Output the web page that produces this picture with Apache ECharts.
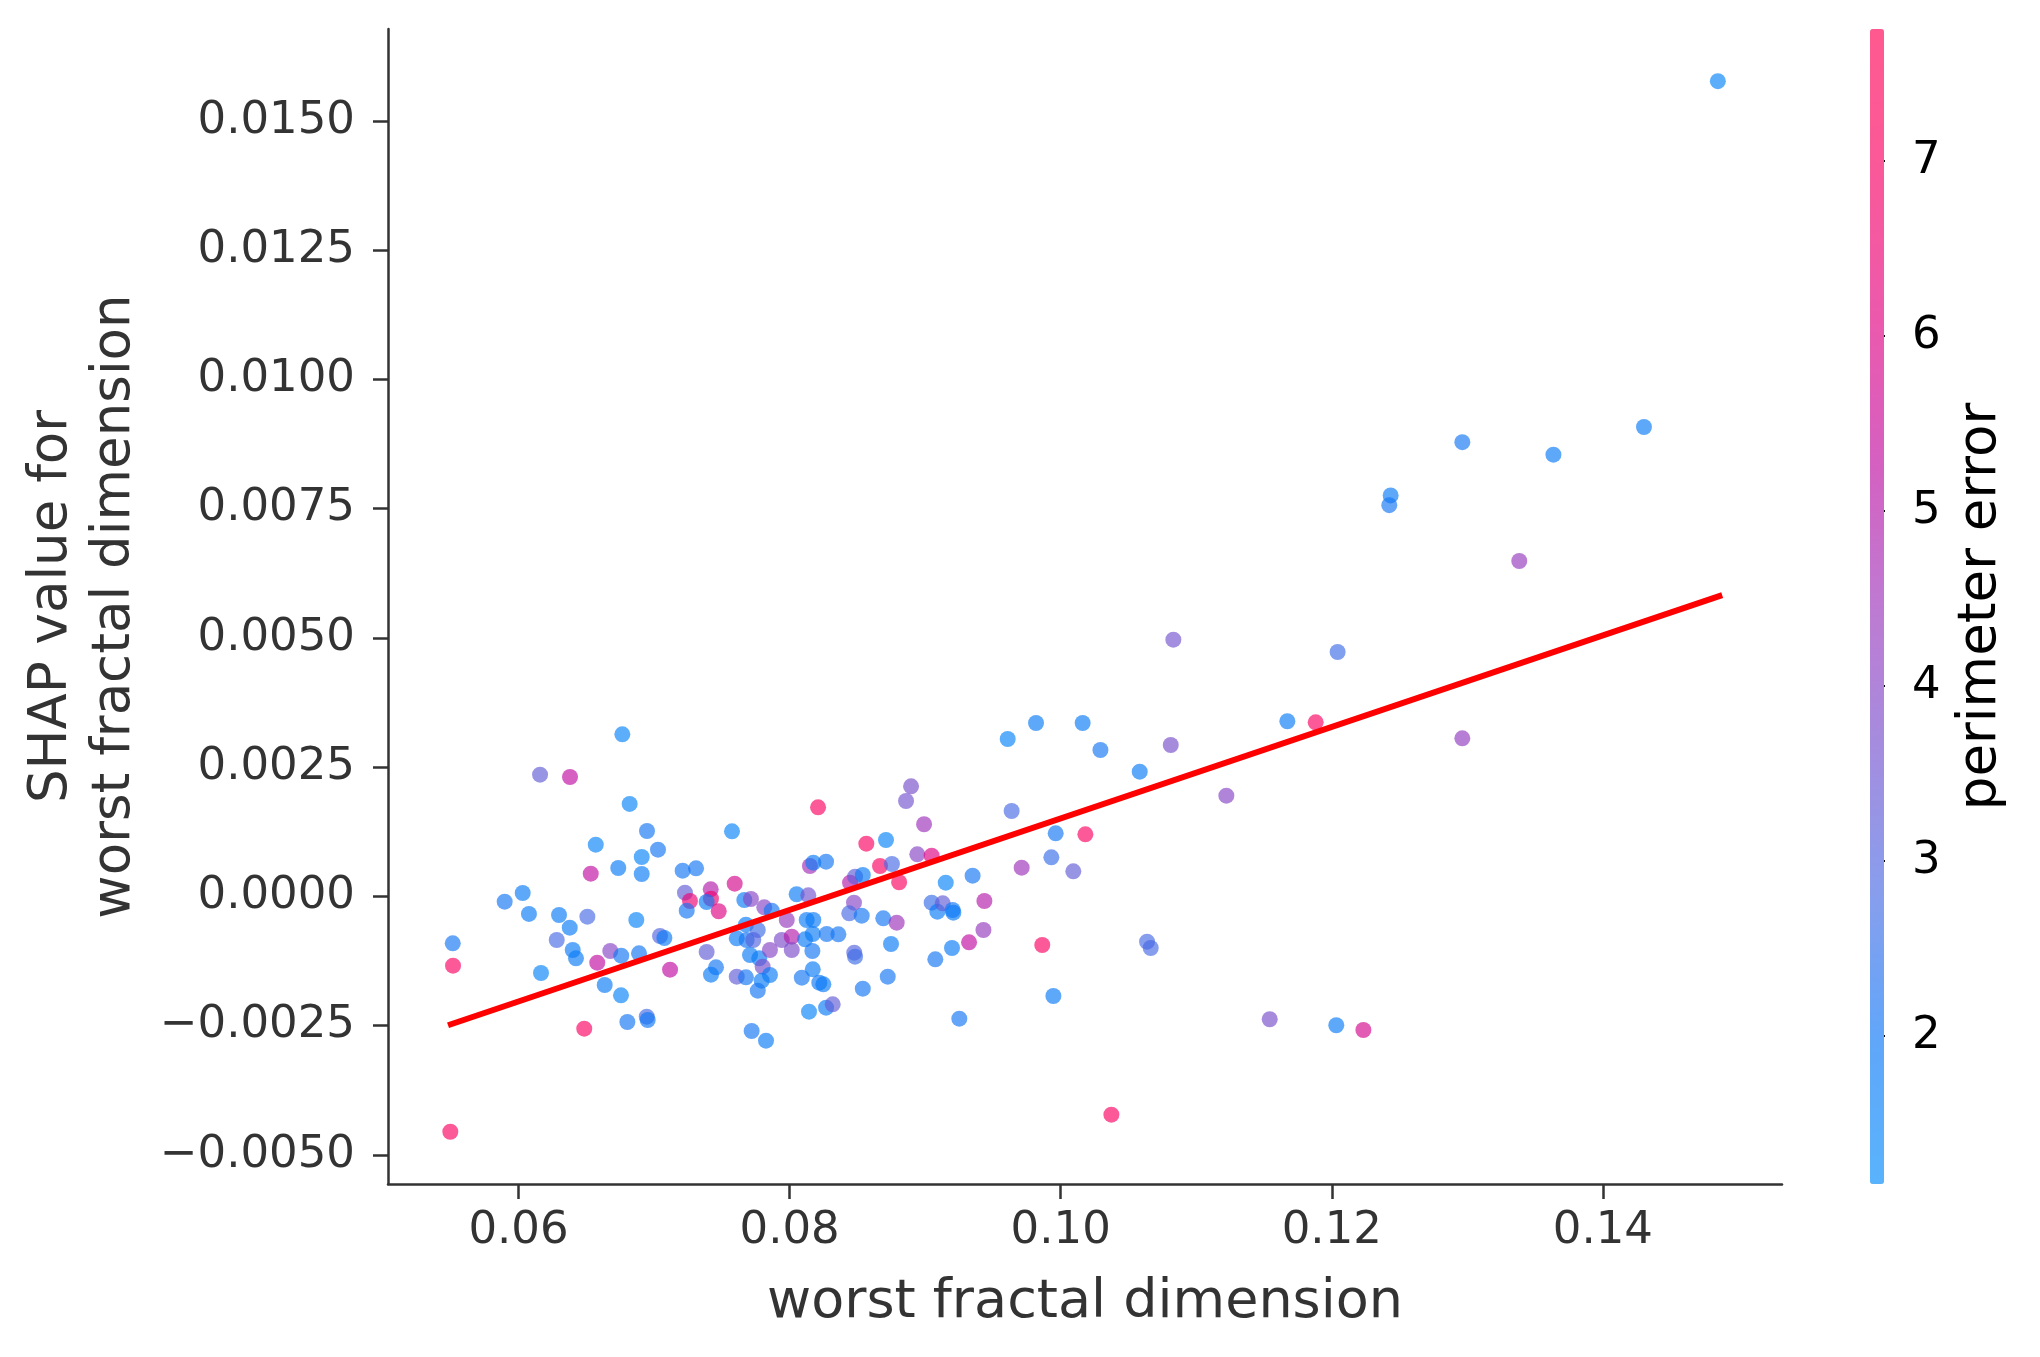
<!DOCTYPE html>
<html><head><meta charset="utf-8">
<script src="https://cdn.jsdelivr.net/npm/echarts@6/dist/echarts.min.js"></script>
<style>html,body{margin:0;padding:0;background:#fff}#c{width:2040px;height:1357px}</style>
</head><body><div id="c"></div>
<script>
// feature value (x), SHAP value (y), interaction feature (colour)
const worstFractalDimension = [
0.06766,0.06159,0.06380,0.06820,0.06948,0.07029,0.06570,0.06909,0.06736,0.06909,
0.06533,0.07575,0.08210,0.08566,0.07211,0.07310,0.08150,0.08175,0.08269,0.08667,
0.05898,0.06031,0.06077,0.06299,0.06378,0.06508,0.06282,0.06400,0.06424,0.05515,
0.05517,0.06166,0.06869,0.06677,0.06758,0.06889,0.06581,0.07118,0.06636,0.06756,
0.06485,0.06803,0.06946,0.06953,0.05497,0.07044,0.07076,0.07228,0.07265,0.07241,
0.07418,0.07420,0.07388,0.07477,0.07595,0.07666,0.07715,0.07813,0.07868,0.07678,
0.07765,0.07610,0.07683,0.07732,0.07388,0.07457,0.07420,0.07610,0.07678,0.07708,
0.07776,0.07855,0.07801,0.07794,0.07855,0.07765,0.07720,0.07826,0.07942,0.08016,
0.08016,0.07979,0.08052,0.08138,0.08126,0.08175,0.08114,0.08171,0.08168,0.08274,
0.08360,0.08171,0.08090,0.08219,0.08249,0.08143,0.08269,0.08318,0.08446,0.08483,
0.08540,0.08475,0.08440,0.08532,0.08477,0.08483,0.08540,0.08711,0.09609,0.10293,
0.10812,0.10583,0.11222,0.09638,0.08896,0.08859,0.08992,0.09963,0.10182,0.08755,
0.08942,0.09048,0.09931,0.10093,0.09712,0.08808,0.09152,0.09350,0.08691,0.08790,
0.09048,0.09090,0.09130,0.09203,0.09208,0.09437,0.09430,0.09324,0.09198,0.09075,
0.08748,0.08724,0.09864,0.09946,0.09252,0.10374,0.10637,0.10664,0.11542,0.12033,
0.12233,0.12963,0.10831,0.12043,0.09818,0.10162,0.11672,0.11881,0.14848,0.12963,
0.13635,0.14303,0.12434,0.12424,0.13383
];
const shapValues = [
0.003137,0.002356,0.002311,0.001790,0.001267,0.000906,0.001003,0.000764,0.000551,0.000435,
0.000441,0.001261,0.001725,0.001021,0.000499,0.000545,0.000590,0.000654,0.000673,0.000590,
-0.000100,0.000068,-0.000338,-0.000358,-0.000603,-0.000390,-0.000841,-0.001035,-0.001196,-0.000906,
-0.001338,-0.001480,-0.000455,-0.001054,-0.001145,-0.001100,-0.001280,-0.001416,-0.001712,-0.001912,
-0.002557,-0.002427,-0.002325,-0.002389,-0.004550,-0.000764,-0.000803,0.000074,-0.000087,-0.000274,
0.000139,-0.000042,-0.000106,-0.000286,0.000248,-0.000068,-0.000048,-0.000209,-0.000274,-0.000545,
-0.000648,-0.000809,-0.000841,-0.000841,-0.001074,-0.001370,-0.001512,-0.001551,-0.001564,-0.001132,
-0.001196,-0.001035,-0.001357,-0.001628,-0.001518,-0.001821,-0.002602,-0.002789,-0.000841,-0.000777,
-0.001035,-0.000455,0.000043,0.000023,-0.000455,-0.000455,-0.000828,-0.000725,-0.001054,-0.000725,
-0.000731,-0.001408,-0.001571,-0.001667,-0.001699,-0.002228,-0.002151,-0.002086,0.000267,0.000383,
0.000416,-0.000120,-0.000325,-0.000371,-0.001087,-0.001164,-0.001783,0.001093,0.003046,0.002834,
0.002930,0.002414,0.001950,0.001654,0.002131,0.001847,0.001397,0.001222,0.001203,0.000629,
0.000816,0.000789,0.000758,0.000487,0.000557,0.000275,0.000267,0.000402,-0.000422,-0.000507,
-0.000120,-0.000294,-0.000132,-0.000261,-0.000313,-0.000087,-0.000648,-0.000886,-0.000996,-0.001215,
-0.000919,-0.001551,-0.000938,-0.001925,-0.002363,-0.004220,-0.000874,-0.000996,-0.002375,-0.002491,
-0.002582,0.003060,0.004967,0.004729,0.003356,0.003356,0.003389,0.003369,0.015770,0.008787,
0.008545,0.009081,0.007758,0.007569,0.006489
];
const perimeterError = [
1.5,3.3,5.3,1.5,2.1,2.1,1.5,1.5,1.8,1.8,
5.3,1.5,7.0,7.0,2.1,2.1,4.6,1.8,2.1,7.0,
2.1,1.8,1.8,1.8,1.8,2.8,2.8,1.8,1.8,2.1,
7.0,1.5,1.5,4.0,2.1,2.1,5.3,5.3,1.8,1.5,
7.0,2.1,2.8,2.0,7.0,3.0,1.8,3.3,6.5,2.1,
5.0,6.5,1.8,6.0,5.8,1.8,4.0,4.0,2.1,1.8,
2.7,1.8,2.1,3.0,3.3,2.1,1.8,3.3,2.1,1.8,
1.8,4.0,3.7,1.8,1.8,2.1,2.1,1.8,3.8,5.0,
3.8,4.3,1.8,3.6,1.8,1.8,1.8,1.8,2.1,2.1,
2.1,1.8,2.1,2.0,1.8,1.5,1.8,3.3,5.0,3.3,
1.8,4.0,2.8,2.1,3.0,2.7,2.1,1.5,1.5,2.1,
3.7,1.8,4.0,2.8,3.7,3.6,4.5,2.1,7.0,2.8,
4.0,6.0,2.6,3.3,4.5,7.0,1.5,2.1,2.1,4.5,
2.6,1.8,3.3,2.0,1.8,5.0,4.3,5.3,1.8,2.1,
1.8,2.1,7.0,1.8,2.1,7.0,2.8,2.8,3.7,1.8,
5.8,4.2,3.6,2.7,1.8,1.8,1.8,7.0,1.5,2.1,
1.8,1.8,1.8,2.1,4.3
];
// fitted trend line end points
const fitLineX = [0.0548, 0.1488];
const fitLineY = [-0.00249, 0.00583];
// tick labels
const xTicks = [0.06, 0.08, 0.10, 0.12, 0.14];
const yTicks = [-0.005, -0.0025, 0, 0.0025, 0.005, 0.0075, 0.01, 0.0125, 0.015];
const colorTicks = [2, 3, 4, 5, 6, 7];
const colorMin = 1.154, colorMax = 7.754;

const stops = [[0,138,250],[10,118,245],[70,105,228],[115,80,205],[155,50,185],[190,10,160],[225,0,128],[248,0,98],[255,0,82]];
const ALPHA = 0.65;
const rgb = c => 'rgb(' + c.map(v => Math.round(v)).join(',') + ')';
const pointColors = stops.map(rgb);
const barColors = stops.map(c => rgb(c.map(v => v * ALPHA + 255 * (1 - ALPHA))));

const points = worstFractalDimension.map((x, i) => [x, shapValues[i], perimeterError[i]]);
const fitLine = fitLineX.map((x, i) => [x, fitLineY[i]]);

const FONT = 'DejaVu Sans';
const chart = echarts.init(document.getElementById('c'), null, {renderer: 'canvas'});
chart.setOption({
  animation: false,
  backgroundColor: '#ffffff',
  textStyle: {fontFamily: FONT},
  grid: [
    {left: 388, top: 29, width: 1394, height: 1155},
    {left: 1870, top: 29, width: 14, height: 1155}
  ],
  xAxis: [
    {
      gridIndex: 0, type: 'value', min: 0.050372, max: 0.153213,
      name: 'worst fractal dimension', nameLocation: 'middle', nameGap: 92,
      nameTextStyle: {fontSize: 54, color: '#333333', fontFamily: FONT},
      axisLine: {show: true, onZero: false, lineStyle: {color: '#333333', width: 2.5}},
      axisTick: {show: true, customValues: xTicks, length: 15, lineStyle: {color: '#333333', width: 2.5}},
      axisLabel: {customValues: xTicks, formatter: v => v.toFixed(2), fontSize: 45, color: '#333333', margin: 25, fontFamily: FONT},
      splitLine: {show: false}
    },
    {gridIndex: 1, type: 'value', min: 0, max: 1, show: false}
  ],
  yAxis: [
    {
      gridIndex: 0, type: 'value', min: -0.005561, max: 0.016779,
      name: 'SHAP value for\nworst fractal dimension', nameLocation: 'middle', nameGap: 241,
      nameTextStyle: {fontSize: 53, lineHeight: 63, color: '#333333', fontFamily: FONT, align: 'center'},
      axisLine: {show: true, onZero: false, lineStyle: {color: '#333333', width: 2.5}},
      axisTick: {show: true, customValues: yTicks, length: 15, lineStyle: {color: '#333333', width: 2.5}},
      axisLabel: {customValues: yTicks, formatter: v => (v < 0 ? '\u2212' : '') + Math.abs(v).toFixed(4), fontSize: 45, color: '#333333', margin: 33, fontFamily: FONT},
      splitLine: {show: false}
    },
    {
      gridIndex: 1, type: 'value', position: 'right', min: colorMin, max: colorMax,
      name: 'perimeter error', nameLocation: 'middle', nameGap: 71,
      nameTextStyle: {fontSize: 53, color: '#000000', fontFamily: FONT},
      axisLine: {show: false},
      axisTick: {show: true, customValues: colorTicks, length: 15, lineStyle: {color: '#000000', width: 2}},
      axisLabel: {customValues: colorTicks, fontSize: 45, color: '#000000', margin: 28, fontFamily: FONT},
      splitLine: {show: false}
    }
  ],
  visualMap: {
    type: 'continuous', min: colorMin, max: colorMax, dimension: 2, seriesIndex: 0,
    calculable: false, orient: 'vertical', left: 1870, top: 29,
    itemWidth: 14, itemHeight: 1155, padding: 0,
    inRange: {color: pointColors},
    controller: {inRange: {color: barColors}}
  },
  series: [
    {
      type: 'scatter', xAxisIndex: 0, yAxisIndex: 0, data: points,
      symbolSize: 16, itemStyle: {opacity: ALPHA}, z: 2
    },
    {
      type: 'line', xAxisIndex: 0, yAxisIndex: 0, data: fitLine,
      showSymbol: false, silent: true, z: 3,
      lineStyle: {color: '#ff0000', width: 6}
    }
  ]
});
</script>
</body></html>
